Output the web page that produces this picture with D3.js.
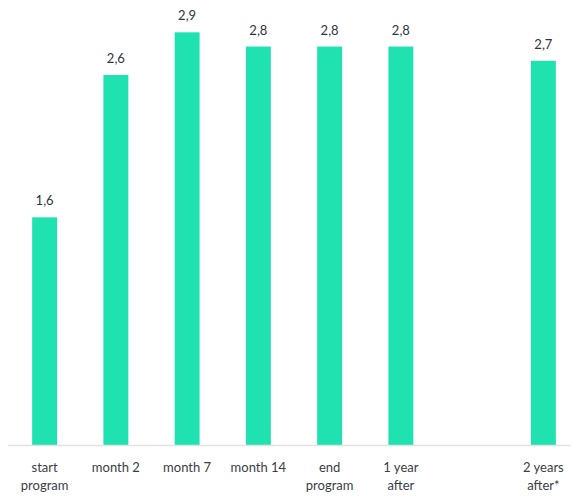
<!DOCTYPE html>
<html>
<head>
<meta charset="utf-8">
<script src="https://cdn.jsdelivr.net/npm/d3@7"></script>
<style>
  html, body { margin: 0; padding: 0; background: #fff; }
  svg { display: block; }
  text { font-family: Lato, "Open Sans", sans-serif; }
</style>
</head>
<body>
<svg id="chart" width="571" height="497"></svg>
<script>
const categories = ["start program", "month 2", "month 7", "month 14", "end program", "1 year after", "gap", "2 years after*"];
const tickLabels = [["start", "program"], ["month 2"], ["month 7"], ["month 14"], ["end", "program"], ["1 year", "after"], [], ["2 years", "after*"]];
const values = [1.6, 2.6, 2.9, 2.8, 2.8, 2.8, null, 2.7];
const valueLabels = ["1,6", "2,6", "2,9", "2,8", "2,8", "2,8", "", "2,7"];

const svg = d3.select("#chart");
const baseY = 445;

const x = d3.scaleBand().domain(categories).range([9, 579]).paddingInner(0.65).paddingOuter(0.325);
const y = d3.scaleLinear().domain([0, 3]).range([baseY, baseY - 3 * 142.3]);

const data = categories.map((c, i) => ({c, v: values[i], lab: valueLabels[i], tick: tickLabels[i]}));

svg.selectAll("rect.bar").data(data.filter(d => d.v != null)).join("rect")
  .attr("class", "bar")
  .attr("x", d => x(d.c))
  .attr("width", x.bandwidth())
  .attr("y", d => y(d.v))
  .attr("height", d => y(0) - y(d.v))
  .attr("fill", "#1fe2b0");

svg.append("line")
  .attr("x1", 8).attr("x2", 571)
  .attr("y1", baseY + 0.5).attr("y2", baseY + 0.5)
  .attr("stroke", "#e2e2e2").attr("stroke-width", 1.5);

svg.selectAll("text.val").data(data.filter(d => d.v != null)).join("text")
  .attr("class", "val")
  .attr("x", d => x(d.c) + x.bandwidth() / 2)
  .attr("y", d => y(d.v) - 12)
  .attr("text-anchor", "middle")
  .attr("font-size", 13)
  .attr("fill", "#2f3440")
  .text(d => d.lab);

const ticks = svg.selectAll("text.tick").data(data).join("text")
  .attr("class", "tick")
  .attr("x", d => x(d.c) + x.bandwidth() / 2)
  .attr("y", 472)
  .attr("text-anchor", "middle")
  .attr("font-size", 13)
  .attr("fill", "#3a3d45");
ticks.selectAll("tspan").data(d => d.tick.map(t => ({t, cx: x(d.c) + x.bandwidth() / 2}))).join("tspan")
  .attr("x", t => t.cx)
  .attr("dy", (t, i) => i === 0 ? 0 : 18)
  .text(t => t.t);
</script>
</body>
</html>
